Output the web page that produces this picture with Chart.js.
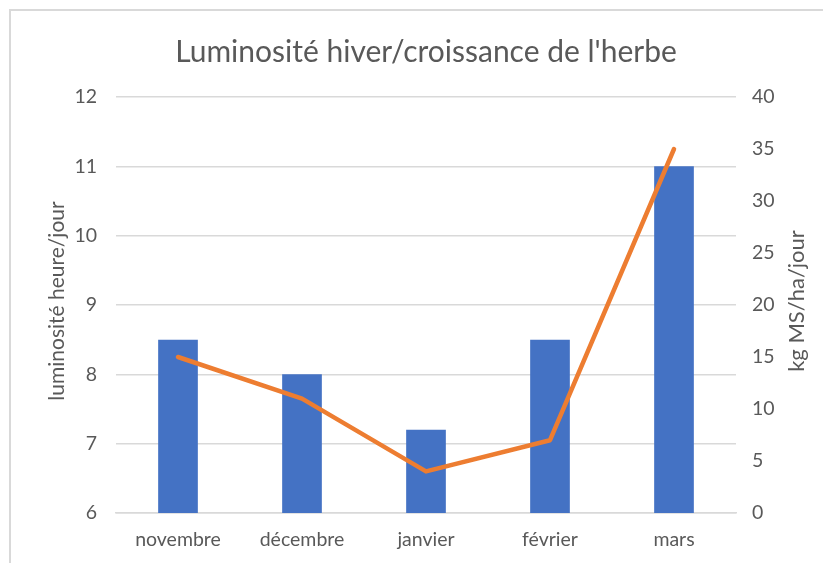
<!DOCTYPE html>
<html>
<head>
<meta charset="utf-8">
<script src="https://cdn.jsdelivr.net/npm/chart.js@4"></script>
<style>
  html, body { margin: 0; padding: 0; background: #fff; }
  #cadre { position: absolute; left: 9px; top: 9px; width: 830px; height: 570px; border: 2px solid #d9d9d9; box-sizing: border-box; }
  #wrap { position: absolute; left: 0; top: 0; width: 823px; height: 563px; }
</style>
</head>
<body>
<div id="cadre"></div>
<div id="wrap"><canvas id="graphique"></canvas></div>
<script>
  // données
  const mois = ["novembre", "décembre", "janvier", "février", "mars"];
  const luminosite = [8.5, 8.0, 7.2, 8.5, 11.0];   // heure/jour
  const croissance = [15, 11, 4, 7, 35];           // kg MS/ha/jour

  const police = "Lato, 'Open Sans', sans-serif";
  const gris = "#595959";
  const taille = 19.5;

  // titres des deux axes verticaux, écrits de bas en haut comme dans Excel
  const titresAxes = {
    id: 'titresAxes',
    afterDraw(chart) {
      const a = chart.chartArea;
      const c = chart.ctx;
      const milieu = (a.top + a.bottom) / 2 - 4;
      c.save();
      c.fillStyle = gris;
      c.textAlign = 'center';
      c.textBaseline = 'middle';
      [[57, 21, 'luminosité heure/jour'], [797, 22, 'kg MS/ha/jour']].forEach(([x, t, txt]) => {
        c.save();
        c.font = t + "px " + police;
        c.translate(x, milieu);
        c.rotate(-Math.PI / 2);
        c.fillText(txt, 0, 0);
        c.restore();
      });
      c.restore();
    }
  };

  const ctx = document.getElementById("graphique").getContext("2d");
  new Chart(ctx, {
    data: {
      labels: mois,
      datasets: [
        {
          type: 'line',
          label: 'croissance',
          data: croissance,
          yAxisID: 'y1',
          borderColor: '#ED7D31',
          borderWidth: 4.5,
          pointRadius: 0,
          tension: 0,
          borderJoinStyle: 'round',
          borderCapStyle: 'round',
          order: 1
        },
        {
          type: 'bar',
          label: 'luminosité',
          data: luminosite,
          yAxisID: 'y',
          backgroundColor: '#4472C4',
          categoryPercentage: 1,
          barPercentage: 0.32,
          order: 2
        }
      ]
    },
    options: {
      responsive: true,
      maintainAspectRatio: false,
      animation: false,
      layout: { padding: { left: 63, right: 34, top: 34, bottom: 0 } },
      plugins: {
        legend: { display: false },
        tooltip: { enabled: false },
        title: {
          display: true,
          text: "Luminosité hiver/croissance de l'herbe",
          color: gris,
          font: { family: police, size: 30, weight: 'normal' },
          padding: { top: 0, bottom: 27 }
        }
      },
      scales: {
        x: {
          grid: { display: false, drawTicks: false },
          border: { color: '#d9d9d9', width: 1.5 },
          ticks: { color: gris, font: { family: police, size: taille }, padding: 15 },
          afterFit: s => { s.height = 50; }
        },
        y: {
          position: 'left',
          min: 6,
          max: 12,
          ticks: { stepSize: 1, color: gris, font: { family: police, size: taille }, padding: 19 },
          grid: { color: '#d9d9d9', lineWidth: 1.5, drawTicks: false },
          border: { display: false },
          afterFit: s => { s.width = 53; }
        },
        y1: {
          position: 'right',
          min: 0,
          max: 40,
          ticks: { stepSize: 5, color: gris, font: { family: police, size: taille }, padding: 16 },
          grid: { display: false, drawTicks: false },
          border: { display: false },
          afterFit: s => { s.width = 53; }
        }
      }
    },
    plugins: [titresAxes]
  });
</script>
</body>
</html>
